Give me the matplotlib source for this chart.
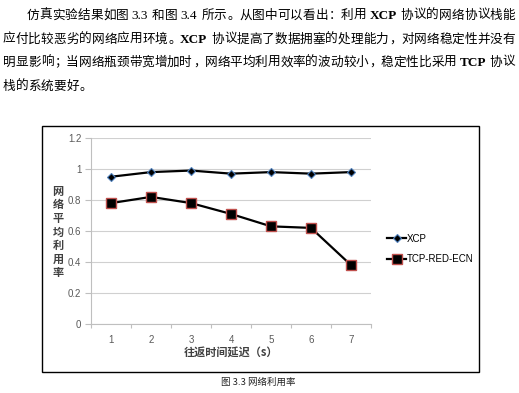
import matplotlib
matplotlib.use('Agg')
import matplotlib.pyplot as plt
from matplotlib.patches import Rectangle

W, H = 519, 393
CJK = ['Noto Sans CJK SC', 'DejaVu Sans']
SERIF = ['Liberation Serif', 'DejaVu Serif']
SANS = ['Liberation Sans', 'DejaVu Sans']

# ---- data ----
x_labels = ['1', '2', '3', '4', '5', '6', '7']
xcp = [0.95, 0.98, 0.99, 0.97, 0.98, 0.97, 0.98]
tcp = [0.78, 0.82, 0.78, 0.71, 0.63, 0.62, 0.38]
y_ticks = [0, 0.2, 0.4, 0.6, 0.8, 1.0, 1.2]
y_tick_labels = ['0', '0.2', '0.4', '0.6', '0.8', '1', '1.2']
series_names = ['XCP', 'TCP-RED-ECN']
y_label = '网络平均利用率'
x_label = '往返时间延迟（s）'
caption = '图 3.3 网络利用率'

paragraph = [
    [('仿真实验结果如图 ', 'c'), ('3.3', 'l'), (' 和图 ', 'c'), ('3.4', 'l'),
     (' 所示。从图中可以看出：利用 ', 'c'), ('XCP', 'b'), (' 协议的网络协议栈能', 'c')],
    [('应付比较恶劣的网络应用环境。', 'c'), ('XCP', 'b'),
     (' 协议提高了数据拥塞的处理能力，对网络稳定性并没有', 'c')],
    [('明显影响；当网络瓶颈带宽增加时，网络平均利用效率的波动较小，稳定性比采用 ', 'c'),
     ('TCP', 'b'), (' 协议', 'c')],
    [('栈的系统要好。', 'c')],
]

fig = plt.figure(figsize=(W / 100, H / 100), dpi=100)
renderer = fig.canvas.get_renderer()

# ---- paragraph text ----
FS = 9.1
EM = FS * 100 / 72.0
SPACE = 3.0
PUNCT = '，。：；、'
line_centers = [14, 38, 61, 85]
line_x0 = [27, 3, 3, 3]
justify = [True, True, True, False]
X1 = 515

for segs, yc, x0, jus in zip(paragraph, line_centers, line_x0, justify):
    pieces = []
    for text, kind in segs:
        if kind == 'c':
            for ch in text:
                if ch == ' ':
                    pieces.append(('space', ch, SPACE))
                else:
                    pieces.append(('c', ch, EM))
        else:
            weight = 'bold' if kind == 'b' else 'normal'
            t = fig.text(0, 0, text, fontsize=FS * 1.05, family=SERIF, fontweight=weight)
            w = t.get_window_extent(renderer).width
            t.remove()
            pieces.append((kind, text, w + 1))
    total = sum(p[2] for p in pieces)
    n = len(pieces)
    extra = ((X1 - x0) - total) / max(n - 1, 1) if jus else 0
    x = x0
    base = yc + 0.36 * EM
    for kind, text, adv in pieces:
        if kind == 'c':
            if text in PUNCT:
                fig.text((x + 0.08 * EM) / W, 1 - base / H, text, fontsize=FS, family=CJK,
                         ha='left', va='baseline', color='black')
            else:
                fig.text((x + adv / 2) / W, 1 - base / H, text, fontsize=FS, family=CJK,
                         ha='center', va='baseline', color='black')
        elif kind in ('l', 'b'):
            fig.text(x / W, 1 - base / H, text, fontsize=FS * 1.05, family=SERIF,
                     fontweight='bold' if kind == 'b' else 'normal',
                     ha='left', va='baseline', color='black')
        x += adv + extra

# ---- chart box ----
fig.add_artist(Rectangle((42 / W, 1 - 372 / H), (479 - 42) / W, (372 - 126) / H,
                         transform=fig.transFigure, fill=False, ec='black', lw=1.0))

ax = fig.add_axes([91 / W, 1 - 324 / H, 280 / W, 186 / H])
xs = list(range(len(x_labels)))
l1, = ax.plot(xs, xcp, color='black', lw=1.6, marker='D', ms=4.5, mfc='black',
              mec='#4f81bd', mew=0.8, label=series_names[0])
l2, = ax.plot(xs, tcp, color='black', lw=1.6, marker='s', ms=6.5, mfc='black',
              mec='#c0504d', mew=1.0, label=series_names[1])

ax.set_xlim(-0.5, len(x_labels) - 0.5)
ax.set_ylim(0, 1.2)
ax.set_yticks(y_ticks)
ax.set_yticklabels(y_tick_labels)
ax.set_xticks(xs)
ax.set_xticklabels(x_labels)
ax.set_xticks([i - 0.5 for i in range(len(x_labels) + 1)], minor=True)
ax.tick_params(axis='x', which='major', length=0, pad=8, labelsize=7, labelcolor='#595959')
ax.tick_params(axis='x', which='minor', length=3, direction='out', color='#bfbfbf', width=0.8)
ax.tick_params(axis='y', which='major', length=4, direction='out', color='#bfbfbf', width=0.8,
               pad=3, labelsize=7, labelcolor='#595959')
for lab in ax.get_xticklabels() + ax.get_yticklabels():
    lab.set_family(SANS)
ax.yaxis.grid(True, color='#d0d0d0', lw=0.8)
ax.set_axisbelow(True)
for s in ['top', 'right']:
    ax.spines[s].set_visible(False)
for s in ['left', 'bottom']:
    ax.spines[s].set_color('#bfbfbf')
    ax.spines[s].set_linewidth(0.8)

fig.legend(handles=[l1, l2], loc='center left', bbox_to_anchor=(387 / W, 1 - 249 / H),
           frameon=False, prop={'family': SANS, 'size': 7}, handlelength=2.0,
           handletextpad=0.05, labelspacing=1.1, borderaxespad=0, borderpad=0)

fig.text(58 / W, 1 - 232 / H, '\n'.join(y_label), ha='center', va='center', fontsize=8,
         fontweight='bold', linespacing=1.05, family=CJK, color='#404040')
fig.text(231 / W, 1 - 352 / H, x_label, ha='center', va='center', fontsize=8,
         fontweight='bold', family=CJK, color='#404040')
fig.text(258 / W, 1 - 382 / H, caption, ha='center', va='center', fontsize=6.8,
         family=CJK, color='#222222')

fig.savefig('out.png', dpi=100)
